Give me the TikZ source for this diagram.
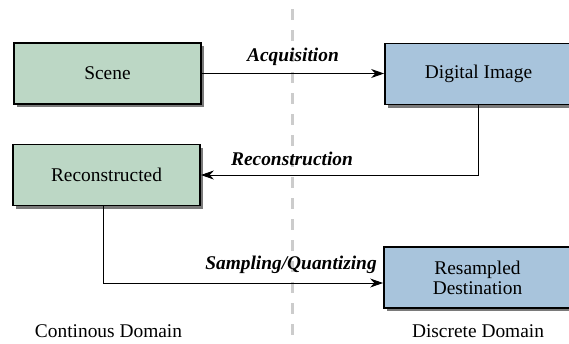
\documentclass[tikz,border=0pt]{standalone}
\usepackage{fontspec}
\setmainfont{Liberation Serif}
\usetikzlibrary{shadows,arrows.meta}
\definecolor{boxgreen}{RGB}{188,215,197}
\definecolor{boxblue}{RGB}{168,196,220}
\begin{document}
\begin{tikzpicture}[x=1pt,y=-1pt,
  box/.style={draw=black,line width=1.8pt,minimum width=187pt,minimum height=61pt,inner sep=0pt,
    align=center,font=\fontsize{19.4}{20}\selectfont,
    drop shadow={shadow xshift=3pt,shadow yshift=-3pt,fill=black!65,opacity=0.8}},
  gbox/.style={box,fill=boxgreen},
  bbox/.style={box,fill=boxblue},
  conn/.style={line width=0.9pt,-{Stealth[length=13pt,width=9pt]}},
  lbl/.style={font=\fontsize{19.4}{21}\selectfont\bfseries\itshape,inner sep=0pt},
  dom/.style={font=\fontsize{19.4}{21}\selectfont,inner sep=0pt}]
\useasboundingbox (0,0) rectangle (569,343);
\draw[gray!40,line width=3pt,dash pattern=on 11pt off 10pt] (292,9) -- (292,343);
\node[gbox] (scene) at (107.5,73.5) {Scene};
\node[bbox] (digital) at (478.5,74) {Digital Image};
\node[gbox] (recon) at (106.5,175) {Reconstructed};
\node[bbox] (resamp) at (477.5,277.5) {Resampled\\Destination};
\coordinate (c1) at (478,175);
\coordinate (c2) at (103,283);
\draw[conn] (scene.east) -- (digital.west |- scene.east);
\draw[conn] (digital.south -| c1) -- (c1) -- (recon.east |- c1);
\draw[conn] (recon.south -| c2) -- (c2) -- (resamp.west |- c2);
\node[lbl] (acq) at (293,57) {Acquisition};
\node[lbl] (rec) at (292,159) {Reconstruction};
\node[lbl] (samp) at (291,265) {Sampling/Quantizing};
\node[dom] (cont) at (108.5,331) {Continous Domain};
\node[dom] (disc) at (478,331) {Discrete Domain};
\end{tikzpicture}
\end{document}
